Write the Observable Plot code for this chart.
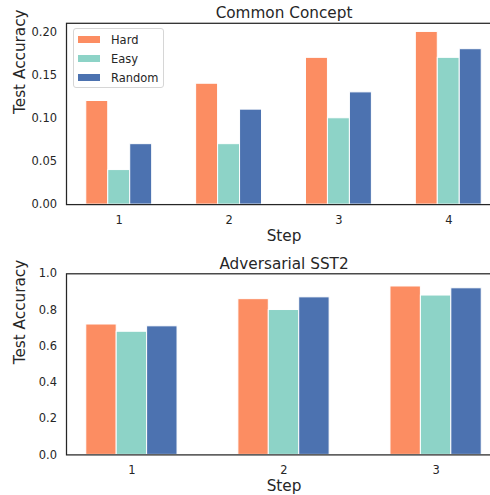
<!DOCTYPE html>
<html><head><meta charset="utf-8">
<script src="https://cdn.jsdelivr.net/npm/d3@7"></script>
<script src="https://cdn.jsdelivr.net/npm/@observablehq/plot@0.6"></script>
<style>
body{margin:0;background:#fff;font-family:"DejaVu Sans",sans-serif;}
#wrap{position:relative;width:490px;height:495px;overflow:hidden;}
#wrap svg{display:block;max-width:none !important;}
.legend{position:absolute;left:72.5px;top:28.3px;width:91px;height:60px;border:1px solid #d6d6d6;border-radius:3px;background:rgba(255,255,255,0.85);font-size:11.46px;color:#262626;box-sizing:border-box;}
.legend .item{position:absolute;left:0;height:14px;line-height:14px;white-space:nowrap;}
.legend .sw{position:absolute;left:4px;top:3.5px;width:22.7px;height:7px;}
.legend .lb{position:absolute;left:37.5px;top:0;}
</style></head><body><div id="wrap"></div>
<script>
const series = ["Hard", "Easy", "Random"];
const colors = ["#fc8d62", "#8dd3c7", "#4c72b0"];

const ccTitle = "Common Concept";
const ccSteps = [1, 2, 3, 4];
const ccHard = [0.12, 0.14, 0.17, 0.20];
const ccEasy = [0.04, 0.07, 0.10, 0.17];
const ccRandom = [0.07, 0.11, 0.13, 0.18];
const ccTicks = [0, 0.05, 0.10, 0.15, 0.20];

const advTitle = "Adversarial SST2";
const advSteps = [1, 2, 3];
const advHard = [0.72, 0.86, 0.93];
const advEasy = [0.68, 0.80, 0.88];
const advRandom = [0.71, 0.87, 0.92];
const advTicks = [0, 0.2, 0.4, 0.6, 0.8, 1.0];

const xLabel = "Step";
const yLabel = "Test Accuracy";

const BAR = 0.2;
const ink = "#262626";

function panel({title, steps, vals, ticks, fmt, yMax, height, marginTop, marginBottom}) {
  const rows = steps.flatMap((s, i) => series.map((name, j) => ({step: s, series: name, j, value: vals[j][i]})));
  const lo = steps[0] - 1.5 * BAR, hi = steps[steps.length - 1] + 1.5 * BAR;
  const pad = 0.05 * (hi - lo);
  const svg = Plot.plot({
    width: 501,
    height,
    marginLeft: 66,
    marginRight: 0,
    marginTop,
    marginBottom,
    style: {fontFamily: "DejaVu Sans", fontSize: "11.46px", color: ink, background: "white"},
    x: {type: "linear", domain: [lo - pad, hi + pad], axis: null},
    y: {domain: [0, yMax], axis: null},
    color: {domain: series, range: colors},
    marks: [
      Plot.rect(rows, {
        x1: d => d.step + (d.j - 1) * BAR - BAR / 2,
        x2: d => d.step + (d.j - 1) * BAR + BAR / 2,
        y1: 0,
        y2: "value",
        fill: "series",
        stroke: "white",
        strokeWidth: 1
      }),
      Plot.axisX({ticks: steps, tickFormat: d => String(d), tickSize: 0, tickPadding: 11, label: null}),
      Plot.axisY({ticks, tickFormat: fmt, tickSize: 0, tickPadding: 9.5, label: null}),
      Plot.frame({stroke: ink, strokeWidth: 1.25}),
      Plot.text([title], {frameAnchor: "top", dy: -5, lineAnchor: "bottom", fontSize: 15.28, fill: ink}),
      Plot.text([xLabel], {frameAnchor: "bottom", dy: 36.5, lineAnchor: "bottom", fontSize: 15.28, fill: ink}),
      Plot.text([yLabel], {frameAnchor: "left", dx: -41.5, rotate: -90, lineAnchor: "bottom", fontSize: 15.28, fill: ink})
    ]
  });
  svg.style.maxWidth = "none";
  svg.style.width = "501px";
  svg.style.height = height + "px";
  return svg;
}

const wrap = document.getElementById("wrap");
wrap.appendChild(panel({
  title: ccTitle, steps: ccSteps, vals: [ccHard, ccEasy, ccRandom], ticks: ccTicks,
  fmt: d3.format(".2f"), yMax: 0.21, height: 248, marginTop: 22.8, marginBottom: 43.9
}));
wrap.appendChild(panel({
  title: advTitle, steps: advSteps, vals: [advHard, advEasy, advRandom], ticks: advTicks,
  fmt: d3.format(".1f"), yMax: 1.0, height: 247, marginTop: 25.3, marginBottom: 40.6
}));

const legend = document.createElement("div");
legend.className = "legend";
series.forEach((name, j) => {
  const item = document.createElement("div");
  item.className = "item";
  item.style.top = (3.7 + j * 18.85) + "px";
  const sw = document.createElement("div");
  sw.className = "sw";
  sw.style.background = colors[j];
  const lb = document.createElement("span");
  lb.className = "lb";
  lb.textContent = name;
  item.appendChild(sw);
  item.appendChild(lb);
  legend.appendChild(item);
});
wrap.appendChild(legend);
</script>
</body></html>
